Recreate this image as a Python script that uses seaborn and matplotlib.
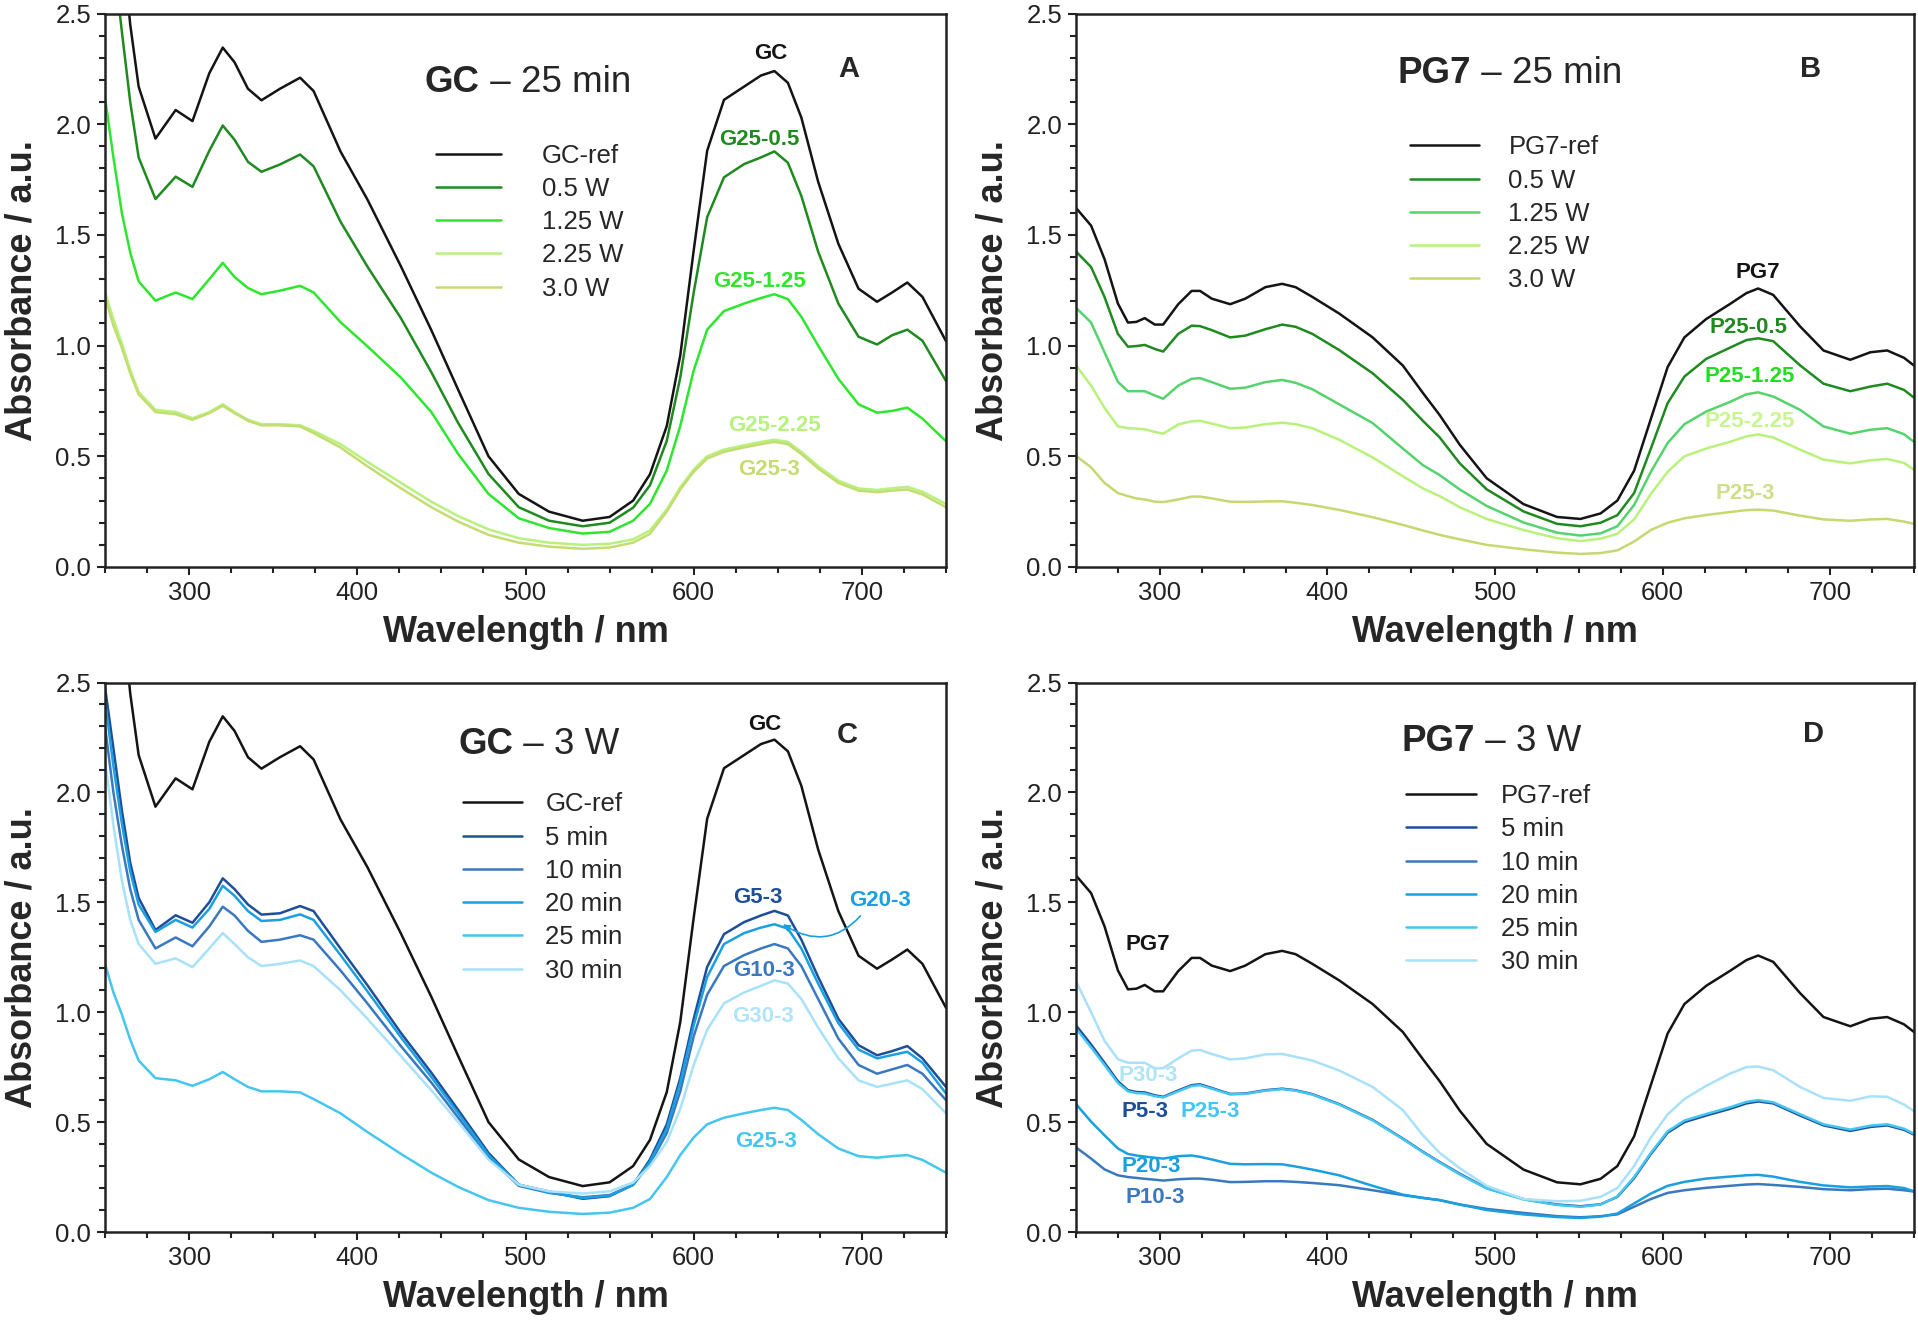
import matplotlib
matplotlib.use("Agg")
import matplotlib.pyplot as plt
import seaborn as sns
from matplotlib.ticker import MultipleLocator, FormatStrFormatter

# ---------------- data ----------------
wl_gc = [250, 255, 260, 265, 270, 280, 292, 302, 312, 320, 327, 335, 343, 354, 366, 374,
         390, 406, 426, 444, 460, 478, 496, 514, 534, 550, 564, 574, 584, 592, 600, 608,
         618, 630, 640, 648, 656, 664, 674, 686, 698, 709, 718, 727, 736, 750]

gc_ref = [4.0, 3.3, 2.85, 2.45, 2.17, 1.935, 2.064, 2.014, 2.23, 2.346, 2.28, 2.16, 2.108, 2.16, 2.21, 2.15,
          1.877, 1.66, 1.357, 1.07, 0.80, 0.50, 0.33, 0.25, 0.209, 0.226, 0.30, 0.419, 0.637, 0.955, 1.43, 1.88,
          2.11, 2.17, 2.22, 2.24, 2.187, 2.03, 1.74, 1.46, 1.257, 1.198, 1.24, 1.285, 1.22, 1.02]
g25_05 = [3.0, 2.75, 2.42, 2.1, 1.85, 1.662, 1.763, 1.717, 1.88, 1.994, 1.93, 1.83, 1.785, 1.818, 1.863, 1.81,
          1.56, 1.357, 1.123, 0.88, 0.65, 0.42, 0.27, 0.209, 0.184, 0.20, 0.268, 0.369, 0.57, 0.855, 1.24, 1.58,
          1.76, 1.82, 1.85, 1.877, 1.826, 1.676, 1.424, 1.19, 1.04, 1.005, 1.047, 1.072, 1.022, 0.84]
g25_125 = [2.12, 1.85, 1.6, 1.42, 1.29, 1.203, 1.24, 1.21, 1.30, 1.374, 1.31, 1.26, 1.232, 1.248, 1.27, 1.24,
           1.106, 0.997, 0.855, 0.70, 0.51, 0.33, 0.22, 0.176, 0.151, 0.159, 0.209, 0.285, 0.436, 0.637, 0.888, 1.072,
           1.156, 1.19, 1.215, 1.232, 1.21, 1.13, 1.0, 0.85, 0.735, 0.697, 0.705, 0.72, 0.67, 0.568]
g25_225 = [1.24, 1.12, 1.01, 0.89, 0.79, 0.71, 0.70, 0.672, 0.70, 0.735, 0.70, 0.665, 0.645, 0.645, 0.64, 0.615,
           0.555, 0.475, 0.38, 0.295, 0.23, 0.17, 0.13, 0.11, 0.10, 0.105, 0.125, 0.165, 0.26, 0.36, 0.44, 0.50,
           0.53, 0.55, 0.565, 0.575, 0.565, 0.52, 0.455, 0.39, 0.355, 0.348, 0.356, 0.362, 0.34, 0.285]
g25_3 = [1.22, 1.09, 0.99, 0.875, 0.78, 0.70, 0.69, 0.665, 0.695, 0.728, 0.695, 0.66, 0.64, 0.64, 0.635, 0.605,
         0.54, 0.455, 0.355, 0.27, 0.205, 0.145, 0.11, 0.092, 0.082, 0.088, 0.11, 0.15, 0.25, 0.35, 0.43, 0.49,
         0.52, 0.54, 0.555, 0.565, 0.555, 0.51, 0.445, 0.38, 0.345, 0.338, 0.345, 0.35, 0.328, 0.27]
g5_3 = [2.48, 2.2, 1.92, 1.68, 1.52, 1.374, 1.441, 1.407, 1.50, 1.609, 1.56, 1.49, 1.444, 1.45, 1.483, 1.46,
        1.29, 1.123, 0.905, 0.725, 0.555, 0.36, 0.215, 0.184, 0.151, 0.163, 0.215, 0.33, 0.49, 0.70, 0.97, 1.206,
        1.355, 1.41, 1.44, 1.461, 1.44, 1.33, 1.16, 0.97, 0.85, 0.804, 0.823, 0.846, 0.79, 0.66]
g10_3 = [2.3, 2.0, 1.76, 1.56, 1.42, 1.29, 1.34, 1.30, 1.39, 1.48, 1.44, 1.37, 1.32, 1.33, 1.35, 1.33,
         1.19, 1.04, 0.845, 0.68, 0.52, 0.34, 0.21, 0.178, 0.158, 0.168, 0.215, 0.31, 0.45, 0.64, 0.89, 1.08,
         1.21, 1.26, 1.29, 1.31, 1.29, 1.21, 1.06, 0.88, 0.76, 0.72, 0.74, 0.76, 0.72, 0.60]
g20_3 = [2.42, 2.12, 1.86, 1.64, 1.49, 1.365, 1.42, 1.385, 1.47, 1.575, 1.53, 1.46, 1.415, 1.42, 1.445, 1.42,
         1.26, 1.095, 0.885, 0.705, 0.54, 0.35, 0.215, 0.18, 0.155, 0.165, 0.215, 0.32, 0.47, 0.68, 0.94, 1.16,
         1.31, 1.36, 1.385, 1.40, 1.38, 1.29, 1.13, 0.95, 0.83, 0.79, 0.805, 0.82, 0.77, 0.63]
g30_3 = [2.15, 1.85, 1.6, 1.42, 1.31, 1.22, 1.245, 1.205, 1.29, 1.36, 1.31, 1.25, 1.21, 1.22, 1.235, 1.21,
         1.10, 0.97, 0.80, 0.645, 0.50, 0.33, 0.215, 0.185, 0.175, 0.185, 0.225, 0.30, 0.41, 0.56, 0.76, 0.92,
         1.04, 1.09, 1.12, 1.145, 1.13, 1.06, 0.93, 0.79, 0.69, 0.66, 0.675, 0.69, 0.65, 0.54]

wl_pg = [250, 259, 267, 275, 281, 286, 291, 297, 302, 311, 319, 324, 331, 342, 351, 363, 373, 381,
         391, 407, 427, 445, 457, 467, 479, 495, 517, 537, 551, 563, 573, 583, 593, 603, 613, 626,
         640, 650, 657, 666, 682, 696, 712, 724, 734, 744, 750]

pg7_ref = [1.622, 1.542, 1.391, 1.19, 1.104, 1.107, 1.124, 1.095, 1.095, 1.187, 1.247, 1.247, 1.212, 1.187, 1.212, 1.264, 1.279, 1.264,
           1.22, 1.145, 1.037, 0.91, 0.786, 0.686, 0.552, 0.401, 0.284, 0.226, 0.217, 0.242, 0.30, 0.435, 0.669, 0.903, 1.037, 1.12,
           1.187, 1.237, 1.258, 1.229, 1.087, 0.978, 0.936, 0.97, 0.978, 0.945, 0.91]
p25_05 = [1.425, 1.355, 1.22, 1.053, 0.995, 0.998, 1.003, 0.985, 0.973, 1.053, 1.09, 1.088, 1.07, 1.037, 1.045, 1.074, 1.095, 1.085,
          1.053, 0.98, 0.875, 0.755, 0.66, 0.585, 0.468, 0.351, 0.251, 0.195, 0.184, 0.2, 0.234, 0.334, 0.535, 0.74, 0.86, 0.94,
          0.99, 1.025, 1.033, 1.02, 0.911, 0.828, 0.794, 0.815, 0.828, 0.80, 0.765]
p25_125 = [1.171, 1.104, 0.97, 0.836, 0.794, 0.794, 0.794, 0.775, 0.76, 0.819, 0.85, 0.853, 0.835, 0.805, 0.81, 0.835, 0.845, 0.832,
           0.803, 0.735, 0.65, 0.535, 0.46, 0.415, 0.35, 0.276, 0.201, 0.155, 0.142, 0.152, 0.184, 0.28, 0.43, 0.56, 0.645, 0.702,
           0.745, 0.78, 0.789, 0.77, 0.71, 0.635, 0.602, 0.62, 0.627, 0.6, 0.565]
p25_225 = [0.911, 0.819, 0.719, 0.635, 0.627, 0.625, 0.622, 0.61, 0.602, 0.644, 0.658, 0.66, 0.648, 0.627, 0.63, 0.645, 0.652, 0.645,
           0.627, 0.575, 0.495, 0.41, 0.355, 0.32, 0.27, 0.217, 0.167, 0.13, 0.117, 0.128, 0.15, 0.215, 0.33, 0.43, 0.5, 0.535,
           0.565, 0.59, 0.599, 0.585, 0.53, 0.485, 0.468, 0.482, 0.488, 0.47, 0.44]
p25_3 = [0.502, 0.45, 0.38, 0.334, 0.32, 0.31, 0.305, 0.295, 0.293, 0.305, 0.318, 0.318, 0.31, 0.295, 0.294, 0.296, 0.297, 0.29,
         0.28, 0.258, 0.225, 0.19, 0.165, 0.145, 0.125, 0.1, 0.08, 0.065, 0.059, 0.063, 0.075, 0.115, 0.167, 0.2, 0.22, 0.235,
         0.248, 0.257, 0.259, 0.255, 0.232, 0.215, 0.209, 0.215, 0.217, 0.205, 0.195]
p5_3 = [0.94, 0.853, 0.77, 0.686, 0.645, 0.637, 0.635, 0.622, 0.615, 0.644, 0.668, 0.672, 0.655, 0.628, 0.63, 0.645, 0.652, 0.645,
        0.627, 0.582, 0.51, 0.425, 0.365, 0.318, 0.265, 0.2, 0.15, 0.125, 0.117, 0.126, 0.16, 0.245, 0.355, 0.452, 0.5, 0.53,
        0.56, 0.585, 0.594, 0.585, 0.53, 0.485, 0.46, 0.478, 0.485, 0.465, 0.443]
p10_3 = [0.385, 0.334, 0.285, 0.258, 0.25, 0.246, 0.242, 0.238, 0.234, 0.24, 0.243, 0.243, 0.238, 0.227, 0.228, 0.231, 0.231, 0.228,
         0.223, 0.213, 0.19, 0.168, 0.155, 0.145, 0.125, 0.105, 0.087, 0.072, 0.067, 0.072, 0.08, 0.115, 0.15, 0.178, 0.19, 0.201,
         0.21, 0.216, 0.218, 0.214, 0.205, 0.195, 0.19, 0.195, 0.197, 0.19, 0.184]
p20_3 = [0.582, 0.502, 0.44, 0.38, 0.355, 0.348, 0.343, 0.338, 0.334, 0.345, 0.348, 0.342, 0.33, 0.31, 0.308, 0.309, 0.308, 0.298,
         0.284, 0.258, 0.21, 0.17, 0.155, 0.145, 0.125, 0.1, 0.08, 0.068, 0.064, 0.07, 0.084, 0.13, 0.175, 0.21, 0.228, 0.243,
         0.252, 0.258, 0.26, 0.252, 0.228, 0.212, 0.203, 0.207, 0.209, 0.2, 0.185]
p25_3_series = [0.925, 0.84, 0.76, 0.678, 0.64, 0.632, 0.63, 0.618, 0.612, 0.64, 0.664, 0.668, 0.652, 0.626, 0.628, 0.643, 0.65, 0.643,
                0.625, 0.58, 0.508, 0.423, 0.363, 0.316, 0.262, 0.198, 0.148, 0.123, 0.115, 0.125, 0.162, 0.25, 0.36, 0.458, 0.507, 0.537,
                0.567, 0.592, 0.6, 0.59, 0.536, 0.49, 0.466, 0.484, 0.49, 0.47, 0.447]
p30_3 = [1.14, 1.0, 0.87, 0.786, 0.77, 0.77, 0.77, 0.745, 0.745, 0.79, 0.825, 0.828, 0.81, 0.785, 0.79, 0.808, 0.81, 0.797,
         0.78, 0.735, 0.66, 0.555, 0.44, 0.36, 0.29, 0.21, 0.15, 0.14, 0.142, 0.16, 0.2, 0.3, 0.43, 0.535, 0.605, 0.665,
         0.72, 0.75, 0.753, 0.736, 0.66, 0.61, 0.597, 0.617, 0.615, 0.58, 0.55]

power_labels = ["0.5 W", "1.25 W", "2.25 W", "3.0 W"]
time_labels = ["5 min", "10 min", "20 min", "25 min", "30 min"]

# ---------------- colours ----------------
BLACK = "#141414"
A_COLS = ["#1f8a1f", "#2ee62e", "#b6f27c", "#c5dc72"]
B_COLS = ["#1f8a1f", "#55d36c", "#b8f27a", "#c6d870"]
BLUES = ["#1f4e99", "#3a78bf", "#1a9fe0", "#45c6f0", "#a8e1f9"]

sns.set_theme(style="ticks")
plt.rcParams["font.family"] = ["Liberation Sans", "DejaVu Sans"]

fig = plt.figure(figsize=(19.18, 13.29), dpi=100)
W, H = 1918.0, 1329.0
axA = fig.add_axes([105 / W, 1 - 567 / H, 841 / W, 553.5 / H])
axB = fig.add_axes([1076 / W, 1 - 567 / H, 838 / W, 553.5 / H])
axC = fig.add_axes([105 / W, 1 - 1232 / H, 841 / W, 549.5 / H])
axD = fig.add_axes([1076 / W, 1 - 1232 / H, 838 / W, 549.5 / H])

LW = 1.8


def style(ax):
    ax.set_xlim(250, 750)
    ax.set_ylim(0, 2.5)
    ax.xaxis.set_major_locator(MultipleLocator(100))
    ax.xaxis.set_minor_locator(MultipleLocator(25))
    ax.yaxis.set_major_locator(MultipleLocator(0.5))
    ax.yaxis.set_minor_locator(MultipleLocator(0.1))
    ax.yaxis.set_major_formatter(FormatStrFormatter("%.1f"))
    ax.tick_params(which="both", direction="out", top=False, right=False,
                   width=1.5, color="#222222")
    ax.tick_params(which="major", length=6, labelsize=18.5, pad=4, labelcolor="#222222")
    ax.tick_params(which="minor", length=4)
    for s in ax.spines.values():
        s.set_linewidth(1.8)
        s.set_color("#222222")
    ax.set_xlabel("Wavelength / nm", fontsize=26, fontweight="bold", labelpad=7)
    ax.set_ylabel("Absorbance / a.u.", fontsize=26, fontweight="bold", labelpad=11)


def line(ax, x, y, color, label):
    sns.lineplot(x=x, y=y, ax=ax, color=color, lw=LW, label=label,
                 sort=False, estimator=None, legend=False)


def title(ax, x, y, bold, rest):
    t = ax.text(x, y, bold, fontsize=26.5, fontweight="bold", va="center", ha="left")
    ax.annotate(rest, xy=(1, 0.5), xycoords=t, fontsize=26.5, va="center", ha="left")


def tag(ax, x, y, s, color, size=16):
    ax.text(x, y, s, fontsize=size, fontweight="bold", color=color, ha="center", va="center")


def legend(ax, x, ytop, hl, htp, ls):
    ax.legend(frameon=False, loc="upper left", bbox_to_anchor=(x, ytop), borderpad=0,
              borderaxespad=0, handlelength=hl, handletextpad=htp, labelspacing=ls,
              fontsize=18.5)


# ---------------- panel A ----------------
line(axA, wl_gc, gc_ref, BLACK, "GC-ref")
for ys, c, lab in zip([g25_05, g25_125, g25_225, g25_3], A_COLS, power_labels):
    line(axA, wl_gc, ys, c, lab)
style(axA)
title(axA, 440, 2.19, "GC", " \u2013 25 min")
axA.text(692, 2.25, "A", fontsize=21, fontweight="bold", ha="center", va="center")
tag(axA, 646, 2.32, "GC", BLACK)
tag(axA, 639, 1.93, "G25-0.5", A_COLS[0])
tag(axA, 639, 1.29, "G25-1.25", A_COLS[1])
tag(axA, 648, 0.64, "G25-2.25", A_COLS[2])
tag(axA, 645, 0.44, "G25-3", A_COLS[3])
legend(axA, 0.394, 0.765, 2.5, 1.6, 0.36)

# ---------------- panel B ----------------
line(axB, wl_pg, pg7_ref, BLACK, "PG7-ref")
for ys, c, lab in zip([p25_05, p25_125, p25_225, p25_3], B_COLS, power_labels):
    line(axB, wl_pg, ys, c, lab)
style(axB)
title(axB, 442, 2.23, "PG7", " \u2013 25 min")
axB.text(688, 2.25, "B", fontsize=21, fontweight="bold", ha="center", va="center")
tag(axB, 657, 1.33, "PG7", BLACK)
tag(axB, 651, 1.08, "P25-0.5", B_COLS[0])
tag(axB, 652, 0.86, "P25-1.25", "#22dd22")
tag(axB, 652, 0.655, "P25-2.25", "#c8f590")
tag(axB, 649, 0.33, "P25-3", "#cfdf8a")
legend(axB, 0.398, 0.78, 2.7, 1.15, 0.36)

# ---------------- panel C ----------------
line(axC, wl_gc, gc_ref, BLACK, "GC-ref")
for ys, c, lab in zip([g5_3, g10_3, g20_3, g25_3, g30_3], BLUES, time_labels):
    line(axC, wl_gc, ys, c, lab)
style(axC)
title(axC, 460, 2.22, "GC", " \u2013 3 W")
axC.text(691, 2.26, "C", fontsize=21, fontweight="bold", ha="center", va="center")
tag(axC, 642, 2.31, "GC", BLACK)
tag(axC, 638, 1.52, "G5-3", BLUES[0])
tag(axC, 642, 1.19, "G10-3", BLUES[1])
tag(axC, 641, 0.98, "G30-3", "#b0e4f8")
tag(axC, 643, 0.41, "G25-3", BLUES[3])
axC.annotate("G20-3", xy=(653, 1.40), xytext=(711, 1.51), fontsize=16, fontweight="bold",
             color=BLUES[2], ha="center", va="center",
             arrowprops=dict(arrowstyle="-|>", color=BLUES[2], lw=1.2, mutation_scale=10,
                             connectionstyle="arc3,rad=-0.45", relpos=(0.25, 0.0),
                             shrinkA=2, shrinkB=0))
legend(axC, 0.426, 0.80, 2.3, 0.9, 0.36)

# ---------------- panel D ----------------
line(axD, wl_pg, pg7_ref, BLACK, "PG7-ref")
for ys, c, lab in zip([p5_3, p10_3, p20_3, p25_3_series, p30_3], BLUES, time_labels):
    line(axD, wl_pg, ys, c, lab)
style(axD)
title(axD, 444, 2.23, "PG7", " \u2013 3 W")
axD.text(690, 2.265, "D", fontsize=21, fontweight="bold", ha="center", va="center")
tag(axD, 293, 1.31, "PG7", BLACK)
tag(axD, 293, 0.71, "P30-3", "#b0e4f8")
tag(axD, 291, 0.55, "P5-3", BLUES[0])
tag(axD, 330, 0.55, "P25-3", BLUES[3])
tag(axD, 295, 0.30, "P20-3", BLUES[2])
tag(axD, 297, 0.155, "P10-3", BLUES[1])
legend(axD, 0.394, 0.815, 2.7, 1.0, 0.36)

fig.savefig("out.png", dpi=100)
